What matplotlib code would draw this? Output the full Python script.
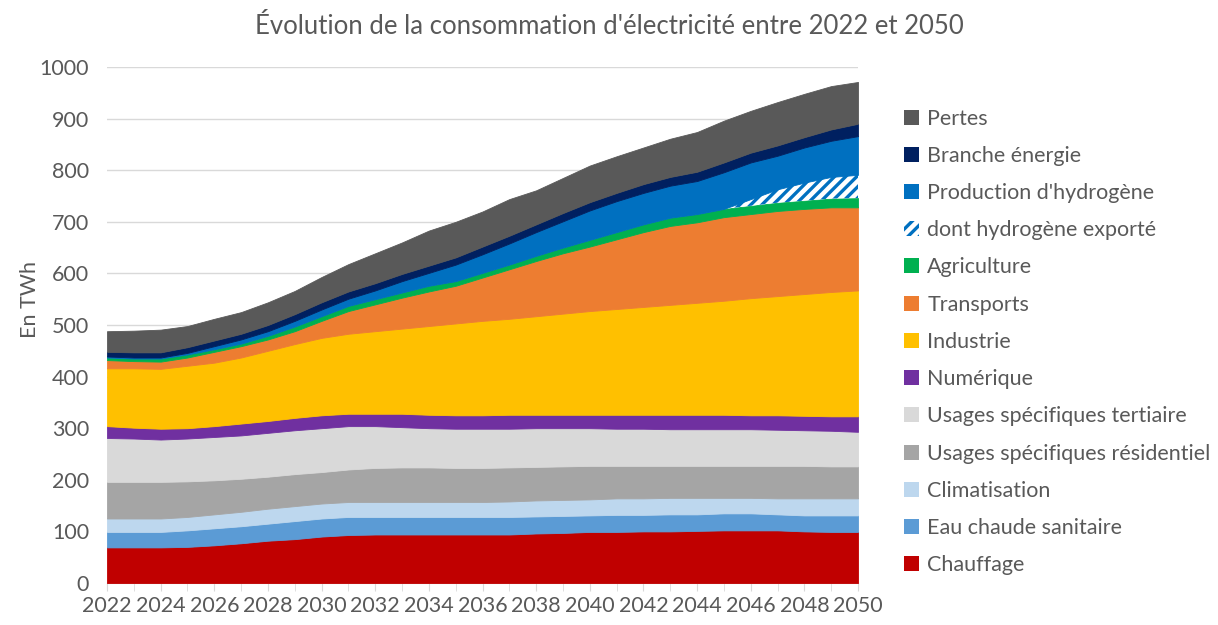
import numpy as np
import matplotlib
matplotlib.use('Agg')
import matplotlib.pyplot as plt
from matplotlib.patches import Patch

plt.rcParams['font.family'] = ['Lato', 'DejaVu Sans']
plt.rcParams['hatch.linewidth'] = 2.4

years = list(range(2022, 2051))

# TWh per layer, bottom to top
chauffage = [69, 69, 69, 70, 73, 77, 82, 85, 90, 93, 94, 94, 94, 94, 94, 94, 96, 97, 99, 99,
             100, 100, 101, 102, 102, 102, 100, 99, 99]
eau_chaude = [30, 30, 30, 32, 33, 33, 33, 35, 35, 35, 34, 34, 34, 34, 34, 34, 33, 33, 32, 33,
              32, 33, 32, 33, 33, 31, 31, 32, 32]
climatisation = [26, 26, 26, 26, 27, 28, 29, 29, 29, 29, 29, 29, 29, 29, 29, 30, 31, 31, 31, 32,
                 32, 32, 32, 30, 30, 31, 33, 33, 33]
usages_residentiel = [71, 71, 71, 69, 66, 64, 62, 62, 61, 63, 66, 67, 67, 66, 66, 66, 65, 65, 65, 63,
                      63, 62, 62, 62, 62, 63, 63, 62, 62]
usages_tertiaire = [85, 84, 82, 83, 84, 84, 85, 85, 85, 84, 81, 78, 76, 76, 76, 75, 75, 74, 73, 72,
                    72, 71, 71, 71, 71, 70, 69, 69, 67]
numerique = [23, 21, 21, 20, 21, 23, 23, 24, 25, 24, 24, 26, 26, 26, 26, 27, 26, 26, 26, 27,
             27, 28, 28, 28, 27, 28, 28, 28, 30]
industrie = [112, 115, 116, 121, 123, 128, 136, 143, 150, 155, 160, 165, 172, 178, 183, 186, 191, 196, 201, 205,
             209, 213, 217, 221, 227, 231, 236, 241, 244]
transports = [16, 14, 14, 16, 21, 22, 22, 25, 33, 44, 52, 60, 67, 73, 84, 96, 107, 117, 125, 135,
              145, 153, 156, 162, 163, 165, 165, 164, 161]
agriculture = [5, 5, 6, 6, 5, 5, 7, 9, 9, 10, 10, 10, 11, 9, 9, 9, 10, 11, 13, 14,
               15, 16, 16, 16, 16, 16, 16, 17, 18]
h2_exporte = [0, 0, 0, 0, 0, 0, 0, 0, 0, 0, 0, 0, 0, 0, 0, 0, 0, 0, 0, 0,
              0, 0, 0, 0, 13, 26, 35, 42, 45]
production_h2 = [2, 2, 2, 3, 6, 8, 9, 11, 13, 14, 17, 22, 25, 32, 36, 41, 46, 51, 57, 60,
                 61, 62, 64, 71, 71, 65, 68, 70, 75]
branche_energie = [9, 10, 10, 11, 11, 11, 12, 13, 14, 14, 14, 14, 14, 14, 15, 15, 15, 16, 16, 16,
                   17, 17, 18, 19, 19, 20, 20, 22, 24]
pertes = [40, 42, 44, 41, 42, 42, 44, 45, 49, 53, 58, 61, 68, 69, 68, 71, 66, 68, 71, 71,
          71, 74, 77, 81, 81, 84, 84, 84, 81]

layers = [chauffage, eau_chaude, climatisation, usages_residentiel, usages_tertiaire, numerique,
          industrie, transports, agriculture, h2_exporte, production_h2, branche_energie, pertes]
labels = ['Chauffage', 'Eau chaude sanitaire', 'Climatisation', 'Usages spécifiques résidentiel',
          'Usages spécifiques tertiaire', 'Numérique', 'Industrie', 'Transports', 'Agriculture',
          'dont hydrogène exporté', "Production d'hydrogène", 'Branche énergie', 'Pertes']
colors = ['#C00000', '#5B9BD5', '#BDD7EE', '#A5A5A5', '#D9D9D9', '#7030A0', '#FFC000',
          '#ED7D31', '#00B050', '#0070C0', '#0070C0', '#002060', '#595959']
HATCHED = 9
FS = 15.5

fig = plt.figure(figsize=(12.18, 6.25), dpi=100)
ax = fig.add_axes([107 / 1218, 1 - 583 / 625, (858 - 107) / 1218, (583 - 67) / 625])

polys = ax.stackplot(years, *layers, colors=colors, linewidth=0.6)
for i, p in enumerate(polys):
    if i == HATCHED:
        p.set_facecolor('white')
        p.set_edgecolor('#0070C0')
        p.set_hatch('///')
        p.set_linewidth(0)
    else:
        p.set_edgecolor(colors[i])

ax.set_xlim(2022, 2050)
ax.set_ylim(0, 1000)
ax.set_yticks(range(0, 1001, 100))
ax.set_xticks(range(2022, 2051, 2))
ax.set_xticks(years, minor=True)
ax.grid(axis='y', color='#d9d9d9', linewidth=1)
ax.set_axisbelow(True)
for s in ['top', 'right', 'left']:
    ax.spines[s].set_visible(False)
ax.spines['bottom'].set_color('#d9d9d9')
ax.spines['bottom'].set_zorder(0)
ax.tick_params(axis='y', length=0, pad=13, labelsize=FS, labelcolor='#595959')
ax.tick_params(axis='x', which='both', length=6, color='#d9d9d9', pad=3,
               labelsize=FS, labelcolor='#595959')
fig.text(30 / 1218, 1 - 300 / 625, 'En TWh', rotation=90, ha='center', va='center',
         fontsize=FS, color='#595959')

fig.suptitle("Évolution de la consommation d'électricité entre 2022 et 2050",
             x=0.5, y=0.978, fontsize=18.5, color='#595959')

handles = []
for i in range(len(layers) - 1, -1, -1):
    if i == HATCHED:
        handles.append(Patch(facecolor='white', edgecolor='#0070C0', hatch='///',
                             linewidth=0, label=labels[i]))
    else:
        handles.append(Patch(facecolor=colors[i], edgecolor='none', label=labels[i]))

fig.legend(handles=handles, loc='upper left', bbox_to_anchor=(895 / 1218, 1 - 100 / 625),
           frameon=False, fontsize=FS, labelcolor='#595959', handlelength=0.7,
           handleheight=0.7, handletextpad=0.4, labelspacing=0.8, borderaxespad=0)

fig.savefig('out.png', dpi=100)
